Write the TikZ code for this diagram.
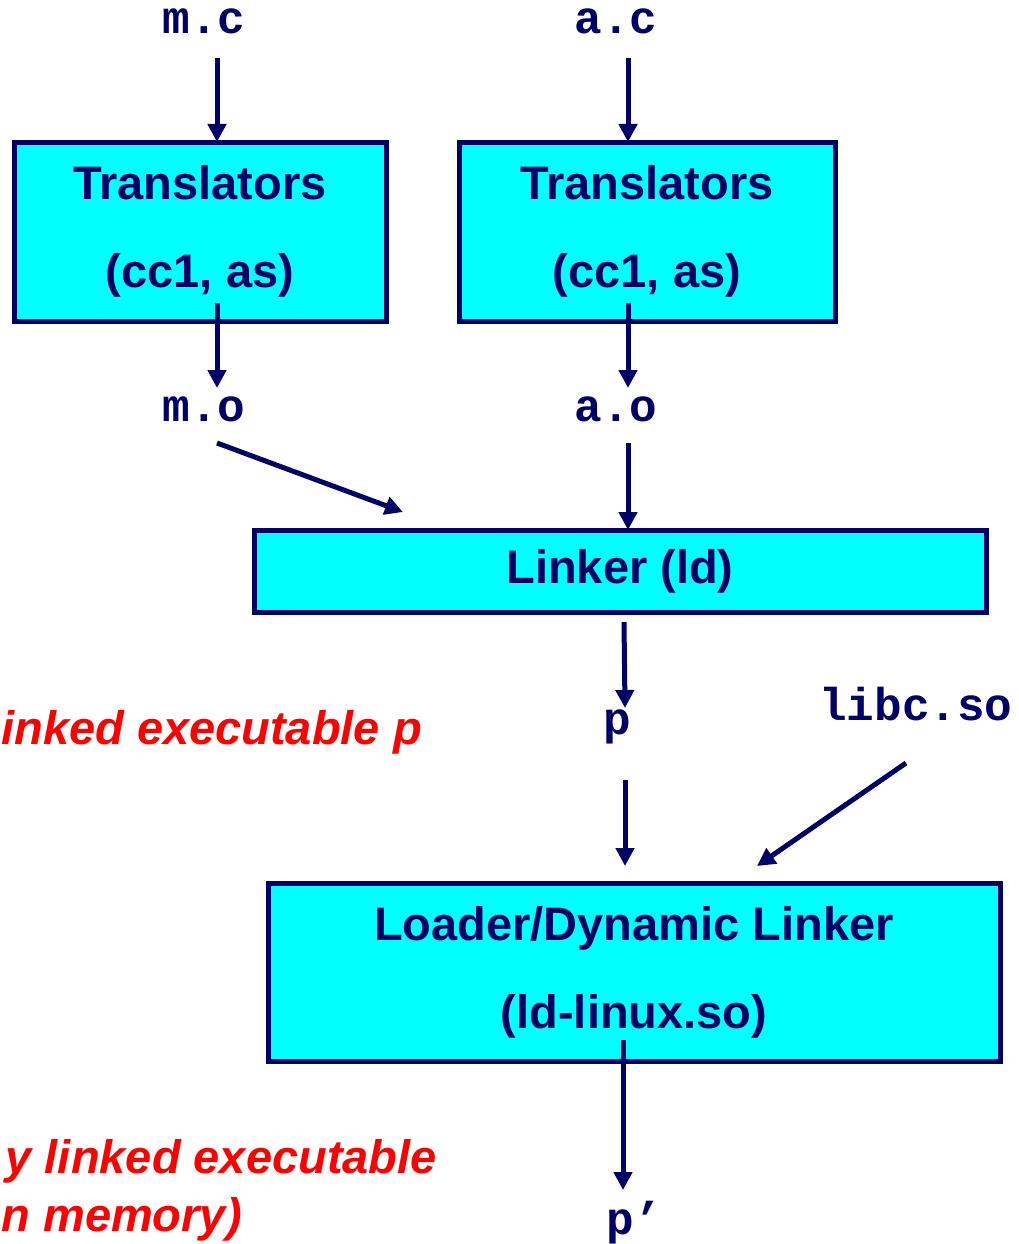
\documentclass[tikz,border=0pt]{standalone}
\usepackage{fontspec}
\setmainfont{Liberation Sans}
\setmonofont{Liberation Mono}
\usepackage{tikz}
\usetikzlibrary{arrows.meta,calc}
\definecolor{navy}{HTML}{000066}
\definecolor{boxcyan}{RGB}{0,255,255}
\tikzstyle{stagebox} = [draw=navy, fill=boxcyan, line width=5pt, rectangle, outer sep=0pt, inner sep=0pt, align=center, text=navy, font=\fontsize{47}{88}\selectfont\bfseries]
\tikzstyle{filename} = [text=navy, inner sep=0pt, anchor=base, font=\fontsize{46}{46}\selectfont\ttfamily\bfseries]
\tikzstyle{remark} = [text=red, inner sep=0pt, anchor=base east, font=\fontsize{47}{58}\selectfont\bfseries\itshape]
\tikzstyle{flow} = [draw=navy, line width=5pt, -{Triangle[width=18pt,length=18pt]}]

\begin{document}
\begin{tikzpicture}[x=1pt,y=-1pt]
\useasboundingbox (0,0) rectangle (1019,1244);
\clip (0,0) rectangle (1019,1244);
\node[filename] (mc) at (204,34) {m.c};
\node[filename] (ac) at (616,34) {a.c};
\node[stagebox, minimum width=372pt, minimum height=179pt] (tl) at (200,231.5) {Translators\\(cc1, as)};
\node[stagebox, minimum width=376pt, minimum height=179pt] (tr) at (647,231.5) {Translators\\(cc1, as)};
\node[filename] (mo) at (204,421) {m.o};
\node[filename] (ao) at (616,421) {a.o};
\node[stagebox, minimum width=732pt, minimum height=82pt] (lk) at (620,571) {Linker (ld)};
\node[filename] (p) at (617,734) {p};
\node[filename] (libc) at (916,720) {libc.so};
\node[remark] (partial) at (422,744) {inked executable p};
\node[stagebox, minimum width=732pt, minimum height=178pt] (ld) at (634,972) {Loader/Dynamic Linker\\(ld-linux.so)};
\node[filename] (pp) at (634,1234) {p’};
\node[remark] (full) at (437,1173) {y linked executable};
\node[remark] (fullb) at (242,1231) {n memory)};

\draw[flow] ($(mc.base)+(13,24)$) -- ($(tl.north)+(17,0)$);
\draw[flow] ($(ac.base)+(12,24)$) -- ($(tr.north)+(-19,0)$);
\draw[flow] ($(tl.south)+(17,-18)$) -- ($(mo.base)+(13,-33)$);
\draw[flow] ($(tr.south)+(-19,-18)$) -- ($(ao.base)+(12,-33)$);
\draw[flow] ($(mo.base)+(13,22)$) -- ($(lk.north)+(-217,-18)$);
\draw[flow] ($(ao.base)+(12,22)$) -- ($(lk.north)+(8,0)$);
\draw[flow] ($(lk.south)+(4,10)$) -- ($(p.base)+(8,-26)$);
\draw[flow] ($(p.base)+(8,46)$) -- ($(ld.north)+(-9,-17)$);
\draw[flow] ($(libc.base)+(-10,43)$) -- ($(ld.north)+(123,-17)$);
\draw[flow] ($(ld.south)+(-11,-21)$) -- ($(pp.base)+(-11,-44)$);
\end{tikzpicture}
\end{document}
